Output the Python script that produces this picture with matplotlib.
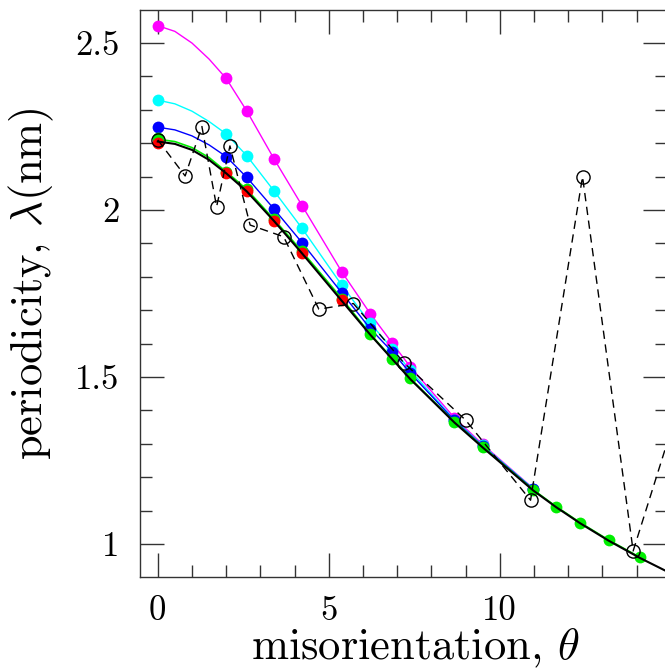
import matplotlib
matplotlib.use("Agg")
import matplotlib.pyplot as plt
from matplotlib.ticker import MultipleLocator

plt.rcParams['font.family'] = ['cmr10', 'DejaVu Serif']
plt.rcParams['mathtext.fontset'] = 'cm'
plt.rcParams['axes.formatter.use_mathtext'] = True

# ---- data ----
mag_x = [0, 2.0, 2.6, 3.4, 4.22, 5.38, 6.21, 6.86, 7.38, 8.67, 9.5, 10.98]
mag_y = [2.552, 2.394, 2.297, 2.153, 2.013, 1.815, 1.690, 1.601, 1.531, 1.378, 1.298, 1.166]
mag_line_x = [0, 0.5, 1.0, 1.5, 2.0, 2.6, 3.4, 4.22, 5.38, 6.21, 6.86, 7.38, 8.67, 9.5, 10.98]
mag_line_y = [2.552, 2.535, 2.500, 2.452, 2.394, 2.297, 2.153, 2.013, 1.815, 1.690, 1.601, 1.531, 1.378, 1.298, 1.166]

cyan_x = [0, 2.0, 2.6, 3.4, 4.22, 5.38, 6.21, 6.86, 7.38, 8.67, 9.5, 10.98]
cyan_y = [2.329, 2.228, 2.163, 2.057, 1.945, 1.775, 1.661, 1.585, 1.520, 1.372, 1.295, 1.165]
cyan_line_x = [0, 0.5, 1.0, 1.5, 2.0, 2.6, 3.4, 4.22, 5.38, 6.21, 6.86, 7.38, 8.67, 9.5, 10.98]
cyan_line_y = [2.329, 2.318, 2.296, 2.265, 2.228, 2.163, 2.057, 1.945, 1.775, 1.661, 1.585, 1.520, 1.372, 1.295, 1.165]

blue_x = [0, 2.0, 2.6, 3.4, 4.22, 5.38, 6.21, 6.86, 7.38, 8.67, 9.5, 10.98]
blue_y = [2.248, 2.160, 2.098, 2.003, 1.902, 1.752, 1.645, 1.575, 1.512, 1.370, 1.293, 1.164]
blue_line_x = [0, 0.5, 1.0, 1.5, 2.0, 2.6, 3.4, 4.22, 5.38, 6.21, 6.86, 7.38, 8.67, 9.5, 10.98]
blue_line_y = [2.248, 2.240, 2.222, 2.195, 2.160, 2.098, 2.003, 1.902, 1.752, 1.645, 1.575, 1.512, 1.370, 1.293, 1.164]

green_x = [0, 2.0, 2.6, 3.4, 4.22, 5.38, 6.21, 6.86, 7.38, 8.67, 9.5, 10.98, 11.65, 12.35, 13.18, 14.1]
green_y = [2.215, 2.115, 2.062, 1.972, 1.876, 1.735, 1.629, 1.555, 1.496, 1.366, 1.291, 1.162, 1.112, 1.064, 1.012, 0.960]
green_line_x = [0, 0.5, 1.0, 1.5, 2.0, 2.6, 3.4, 4.22, 5.38, 6.21, 6.86, 7.38, 8.67, 9.5, 10.98, 11.65, 12.35, 13.18, 14.1]
green_line_y = [2.212, 2.205, 2.187, 2.157, 2.115, 2.062, 1.972, 1.876, 1.735, 1.629, 1.555, 1.496, 1.366, 1.291, 1.162, 1.112, 1.064, 1.012, 0.960]

red_x = [0, 2.0, 2.6, 3.4, 4.22, 5.38]
red_y = [2.200, 2.110, 2.057, 1.968, 1.872, 1.730]

black_x = [0, 0.5, 1.0, 1.5, 2.0, 2.6, 3.4, 4.22, 5.38, 6.21, 6.86, 7.38, 8.67, 9.5, 10.98, 11.65, 12.35, 13.18, 14.1, 14.9]
black_y = [2.205, 2.198, 2.180, 2.150, 2.110, 2.056, 1.967, 1.870, 1.728, 1.627, 1.553, 1.494, 1.364, 1.289, 1.160, 1.110, 1.062, 1.010, 0.958, 0.917]

dash_x = [0, 0.80, 1.29, 1.72, 2.11, 2.70, 3.68, 4.71, 5.72, 7.2, 9.0, 10.9, 12.42, 13.9, 15.5]
dash_y = [2.21, 2.102, 2.25, 2.01, 2.192, 1.955, 1.92, 1.703, 1.72, 1.542, 1.371, 1.131, 2.10, 0.979, 1.50]

x_ticks = [0, 5, 10]
x_ticklabels = ['0', '5', '10']
y_ticks = [1, 1.5, 2, 2.5]
y_ticklabels = ['1', '1.5', '2', '2.5']

fig = plt.figure(figsize=(6.65, 6.69), dpi=100)
ax = fig.add_axes([140/665, 92/669, 527/665, 567/669])

ms = 8.5
ax.plot(mag_line_x, mag_line_y, '-', color='#ff00ff', lw=1.0, zorder=2)
ax.plot(mag_x, mag_y, 'o', color='#ff00ff', ms=ms, mec='none', zorder=3)
ax.plot(cyan_line_x, cyan_line_y, '-', color='#00ffff', lw=1.0, zorder=2)
ax.plot(cyan_x, cyan_y, 'o', color='#00ffff', ms=ms, mec='none', zorder=3)
ax.plot(blue_line_x, blue_line_y, '-', color='#0000ff', lw=1.0, zorder=4)
ax.plot(blue_x, blue_y, 'o', color='#0000ff', ms=ms, mec='none', zorder=4)
ax.plot(green_line_x, green_line_y, '-', color='#00ee00', lw=1.2, zorder=5)
ax.plot(green_x, green_y, 'o', color='#00ee00', ms=ms, mec='none', zorder=5)
ax.plot(red_x, red_y, 'o', color='#ff0000', ms=ms, mec='none', zorder=6)
ax.plot(black_x, black_y, '-', color='black', lw=1.5, zorder=7)
ax.plot(dash_x, dash_y, '--', color='black', lw=1.0, dashes=(6, 4),
        marker='o', ms=9.5, mfc='none', mec='black', mew=1.0, zorder=8)

ax.set_xlim(-0.52, 14.89)
ax.set_ylim(0.901, 2.599)
ax.xaxis.set_minor_locator(MultipleLocator(1))
ax.yaxis.set_minor_locator(MultipleLocator(0.1))
ax.set_yticks(y_ticks)
ax.set_yticklabels(y_ticklabels)
ax.set_xticks(x_ticks)
ax.set_xticklabels(x_ticklabels)

spine_c = '#333333'
for s in ax.spines.values():
    s.set_color(spine_c)
    s.set_linewidth(1.0)
ax.tick_params(which='both', direction='in', top=True, right=True, color=spine_c, width=1.0)
ax.tick_params(which='major', length=17)
ax.tick_params(which='minor', length=8.5)
ax.tick_params(axis='x', which='major', labelsize=25, pad=13)
ax.tick_params(axis='y', which='major', labelsize=25, pad=15)

ax.set_xlabel(r'misorientation, $\theta$', fontsize=32)
ax.set_ylabel(r'periodicity, $\lambda$(nm)', fontsize=32)
ax.xaxis.set_label_coords(0.522, -0.088)
ax.yaxis.set_label_coords(-0.159, 0.518)

fig.savefig('out.png', dpi=100)
